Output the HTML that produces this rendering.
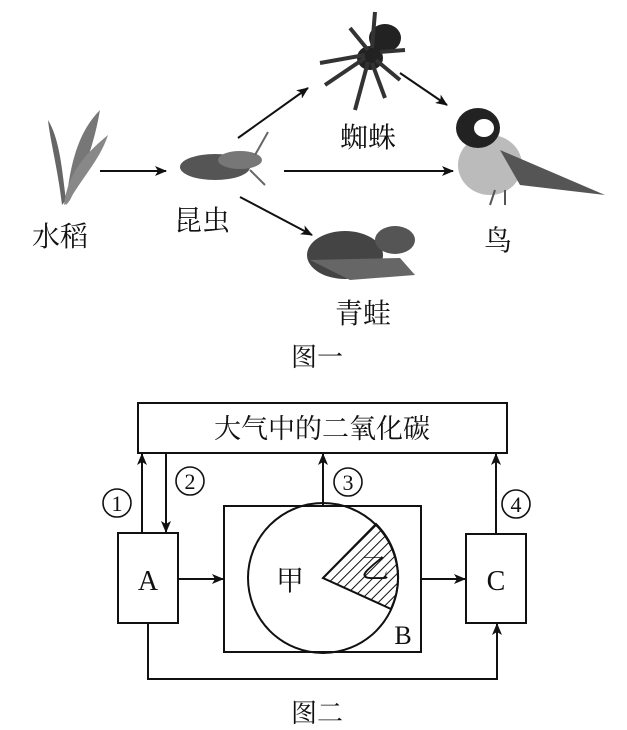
<!DOCTYPE html>
<html><head><meta charset="utf-8"><style>
html,body{margin:0;padding:0;background:#fff;}
svg{display:block;}
text{font-family:"Liberation Serif","Noto Serif CJK SC","Noto Sans CJK SC",serif;fill:#111;}
</style></head><body>
<svg width="627" height="730" viewBox="0 0 627 730" xmlns="http://www.w3.org/2000/svg">
<defs>
<marker id="ah" markerWidth="12" markerHeight="10" refX="11" refY="5" orient="auto" markerUnits="userSpaceOnUse">
<path d="M0,0 L12,5 L0,10 L3,5 Z" fill="#111"/></marker>
<pattern id="hat" width="7" height="7" patternUnits="userSpaceOnUse" patternTransform="rotate(45)">
<line x1="0" y1="0" x2="0" y2="7" stroke="#111" stroke-width="2"/></pattern>
</defs>
<g fill="#666">
<path d="M62,205 C58,170 50,140 48,120 C60,140 62,170 66,200 Z"/>
<path d="M66,205 C70,160 80,130 100,110 C95,140 85,170 70,200 Z" fill="#777"/>
<path d="M64,205 C68,170 90,150 108,135 C100,160 80,180 68,203 Z" fill="#888"/>
<ellipse cx="215" cy="167" rx="35" ry="13" fill="#555"/>
<ellipse cx="240" cy="160" rx="22" ry="9" fill="#777"/>
<line x1="255" y1="155" x2="268" y2="132" stroke="#666" stroke-width="2"/>
<line x1="250" y1="170" x2="265" y2="185" stroke="#666" stroke-width="2"/>
<ellipse cx="385" cy="38" rx="16" ry="14" fill="#222"/>
<ellipse cx="370" cy="58" rx="13" ry="12" fill="#222"/>
<g stroke="#333" stroke-width="4" fill="none">
<path d="M365,55 L320,63"/><path d="M365,58 L325,85"/><path d="M368,62 L355,110"/><path d="M372,63 L385,98"/>
<path d="M368,50 L350,28"/><path d="M372,48 L375,12"/><path d="M380,52 L405,50"/><path d="M376,60 L400,80"/>
</g>
<ellipse cx="345" cy="255" rx="38" ry="24" fill="#444"/>
<ellipse cx="395" cy="240" rx="20" ry="14" fill="#555"/>
<path d="M310,260 L350,280 L415,275 L400,258 Z" fill="#666"/>
<ellipse cx="490" cy="165" rx="32" ry="30" fill="#bbb"/>
<ellipse cx="478" cy="128" rx="22" ry="20" fill="#222"/>
<ellipse cx="484" cy="128" rx="10" ry="9" fill="#fff"/>
<path d="M500,150 L605,195 L520,185 Z" fill="#555"/>
<line x1="495" y1="190" x2="490" y2="205" stroke="#555" stroke-width="2"/>
<line x1="505" y1="190" x2="505" y2="205" stroke="#555" stroke-width="2"/>
</g>
<g stroke="#111" stroke-width="2" fill="none" marker-end="url(#ah)">
<line x1="100" y1="171" x2="166" y2="171"/>
<line x1="238" y1="138" x2="308" y2="88"/>
<line x1="284" y1="171" x2="453" y2="171"/>
<line x1="240" y1="197" x2="312" y2="235"/>
<line x1="400" y1="73" x2="447" y2="105"/>
</g>
<g font-size="28">
<text x="60" y="246" text-anchor="middle">水稻</text>
<text x="202" y="230" text-anchor="middle">昆虫</text>
<text x="368" y="147" text-anchor="middle">蜘蛛</text>
<text x="498" y="250" text-anchor="middle">鸟</text>
<text x="363" y="323" text-anchor="middle">青蛙</text>
<text x="317" y="366" text-anchor="middle" font-size="26">图一</text>
</g>
<g stroke="#111" stroke-width="2" fill="none">
<rect x="138" y="403" width="369" height="50"/>
<rect x="118" y="533" width="60" height="90"/>
<rect x="224" y="506" width="197" height="146"/>
<rect x="466" y="534" width="60" height="89"/>
<circle cx="323" cy="578" r="75"/>
<path d="M323,578 L376,524 A75,75 0 0 1 391,609 Z" fill="url(#hat)"/>
<path d="M148,623 L148,679 L497,679 L497,627"/>
</g>
<g stroke="#111" stroke-width="2" fill="none" marker-end="url(#ah)">
<line x1="142" y1="533" x2="142" y2="454"/>
<line x1="166" y1="453" x2="166" y2="532"/>
<line x1="323" y1="506" x2="323" y2="454"/>
<line x1="496" y1="534" x2="496" y2="454"/>
<line x1="178" y1="579" x2="223" y2="579"/>
<line x1="421" y1="579" x2="465" y2="579"/>
<line x1="497" y1="640" x2="497" y2="624"/>
</g>
<text x="322" y="438" text-anchor="middle" font-size="27">大气中的二氧化碳</text>
<g stroke="#111" stroke-width="1.6" fill="none">
<circle cx="117" cy="503" r="14"/>
<circle cx="190" cy="481" r="14"/>
<circle cx="348" cy="482" r="14"/>
<circle cx="516" cy="504" r="14"/>
</g>
<g font-size="22" text-anchor="middle">
<text x="117" y="511">1</text>
<text x="190" y="489">2</text>
<text x="348" y="490">3</text>
<text x="516" y="512">4</text>
</g>
<g font-size="28" text-anchor="middle">
<text x="148" y="590">A</text>
<text x="496" y="590">C</text>
<text x="403" y="644" font-size="26">B</text>
<text x="290" y="590">甲</text>
<text x="375" y="578">乙</text>
<text x="317" y="722" font-size="26">图二</text>
</g>
</svg>
</body></html>
